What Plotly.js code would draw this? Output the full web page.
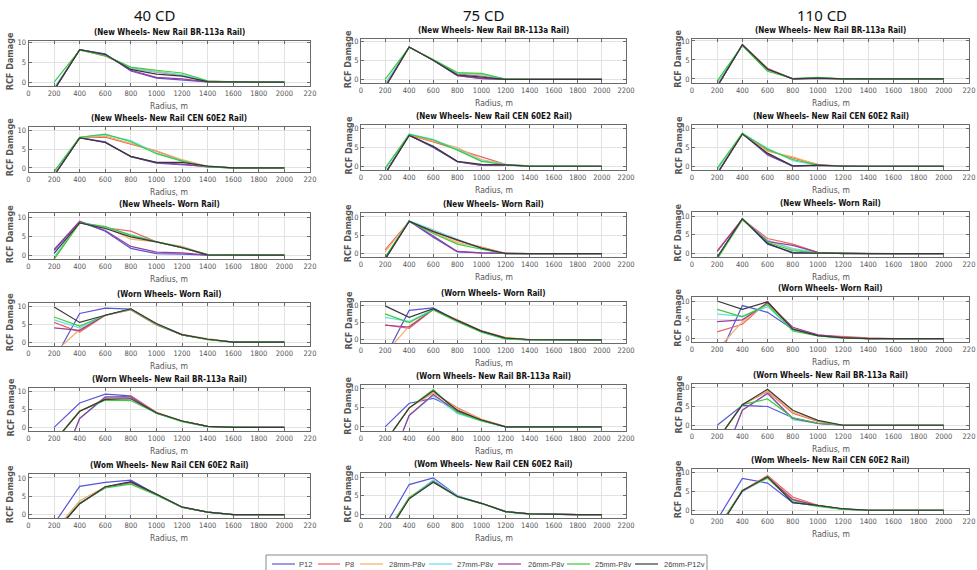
<!DOCTYPE html>
<html><head><meta charset="utf-8">
<script src="https://cdn.plot.ly/plotly-3.0.1.min.js"></script>
<style>html,body{margin:0;padding:0;background:#fff}#chart{width:977px;height:570px}</style>
</head><body><div id="chart"></div>
<script>
// ---------------- DATA ----------------
const radius = [200, 400, 600, 800, 1000, 1200, 1400, 1600, 1800, 2000];
const seriesNames = ['P12', 'P8', '28mm-P8v', '27mm-P8v', '26mm-P8v', '25mm-P8v', '26mm-P12v'];
const columnTitles = ['40 CD', '75 CD', '110 CD'];
const panelTitles = [
  '(New Wheels- New Rail BR-113a Rail)',
  '(New Wheels- New Rail CEN 60E2 Rail)',
  '(New Wheels- Worn Rail)',
  '(Worn Wheels- Worn Rail)',
  '(Worn Wheels- New Rail BR-113a Rail)',
  '(Wom Wheels- New Rail CEN 60E2 Rail)'
];
const xTickVals = [0, 200, 400, 600, 800, 1000, 1200, 1400, 1600, 1800, 2000, 2200];
const xTickTextFull = ['0', '200', '400', '600', '800', '1000', '1200', '1400', '1600', '1800', '2000', '2200'];
const xTickTextCut = ['0', '200', '400', '600', '800', '1000', '1200', '1400', '1600', '1800', '2000', '220'];
const yTickVals = [0, 5, 10];
const xTitle = 'Radius, m';
const yTitle = 'RCF Damage';

// each panel: one row per series, in seriesNames order
const cd40_newNewBR = [
  [-2, 8.2, 7.2, 2.8, 1.0, 0.6, 0.05, 0, 0, 0],
  [-2, 8.2, 6.6, 3.5, 2.5, 1.7, 0.1, 0, 0, 0],
  [-1.8, 8.2, 6.8, 3.6, 2.8, 1.8, 0.15, 0, 0, 0],
  [-1.5, 8.1, 6.9, 3.5, 2.6, 1.9, 0.2, 0, 0, 0],
  [-2, 8.2, 7.0, 3.0, 1.2, 0.8, 0.05, 0, 0, 0],
  [0, 8.1, 6.7, 3.8, 3.0, 2.3, 0.3, 0.05, 0, 0],
  [-2, 8.2, 7.0, 3.2, 2.0, 1.5, 0.1, 0, 0, 0]
];
const cd40_newNewCEN = [
  [-2, 8.1, 7.0, 3.0, 1.3, 0.9, 0.3, 0, 0, 0],
  [-2, 8.1, 8.2, 6.3, 4.5, 2.0, 0.3, 0, 0, 0],
  [-2, 8.1, 8.5, 6.5, 4.6, 2.2, 0.4, 0, 0, 0],
  [-1, 8.2, 8.8, 7.3, 4.0, 1.9, 0.3, 0, 0, 0],
  [-2, 8.1, 6.8, 3.0, 1.4, 1.0, 0.3, 0, 0, 0],
  [-1, 8.2, 9.0, 7.0, 3.8, 1.8, 0.3, 0, 0, 0],
  [-2, 8.0, 6.8, 3.1, 1.5, 1.5, 0.5, 0, 0, 0]
];
const cd40_newWorn = [
  [1.2, 8.8, 6.3, 1.8, 0.4, 0.3, 0, 0, 0, 0],
  [-1, 8.6, 7.2, 6.3, 3.5, 2.0, 0, 0, 0, 0],
  [-1, 8.5, 7.5, 4.2, 3.5, 2.3, 0.1, 0, 0, 0],
  [-0.5, 8.7, 7.3, 5.5, 3.5, 2.0, 0.1, 0, 0, 0],
  [1.5, 8.9, 6.5, 2.3, 0.8, 0.6, 0, 0, 0, 0],
  [-1, 8.5, 7.5, 5.2, 3.5, 2.0, 0.2, 0, 0, 0],
  [0.5, 8.5, 7.0, 4.8, 3.5, 2.0, 0.1, 0, 0, 0]
];
const cd40_wornWorn = [
  [-5, 8.0, 9.5, 9.2, 5.0, 2.0, 0.8, 0, 0, 0],
  [5.5, 2.8, 7.5, 9.0, 4.8, 2.0, 0.8, 0, 0, 0],
  [-3, 3.5, 7.4, 9.2, 5.0, 2.2, 1.0, 0, 0, 0],
  [6.2, 4.0, 7.5, 9.2, 5.0, 2.0, 0.8, 0, 0, 0],
  [4.0, 3.3, 7.5, 9.2, 5.0, 2.0, 0.8, 0, 0, 0],
  [7.0, 4.5, 7.5, 9.2, 5.0, 2.0, 0.7, 0, 0, 0],
  [9.8, 5.5, 7.5, 9.3, 5.2, 2.1, 0.8, 0, 0, 0]
];
const cd40_wornNewBR = [
  [0, 6.8, 9.3, 8.8, 4.0, 1.8, 0.3, 0, 0, 0],
  [-4, 4.5, 8.0, 8.8, 4.2, 1.8, 0.3, 0, 0, 0],
  [-4, 4.5, 7.8, 8.5, 4.0, 1.8, 0.3, 0, 0, 0],
  [-15, 2.5, 8.3, 8.3, 4.0, 1.7, 0.3, 0, 0, 0],
  [-15, 2.5, 8.5, 8.5, 4.0, 1.8, 0.3, 0, 0, 0],
  [-4, 4.5, 7.6, 7.5, 4.0, 1.6, 0.2, 0, 0, 0],
  [-4, 4.5, 7.8, 8.0, 4.1, 1.8, 0.3, 0, 0, 0]
];
const cd40_wornNewCEN = [
  [-2.5, 7.7, 8.8, 9.4, 5.5, 2.0, 0.7, 0, 0, 0],
  [-5, 3.0, 7.5, 8.8, 5.5, 2.0, 0.7, 0, 0, 0],
  [-4.5, 3.8, 7.6, 8.6, 5.5, 2.0, 0.7, 0, 0, 0],
  [-5, 3.0, 7.5, 8.8, 5.5, 2.0, 0.7, 0, 0, 0],
  [-5, 3.0, 7.5, 8.8, 5.5, 2.0, 0.7, 0, 0, 0],
  [-5, 3.2, 7.3, 8.3, 5.3, 2.0, 0.7, 0, 0, 0],
  [-5, 3.0, 7.6, 9.0, 5.6, 2.1, 0.7, 0, 0, 0]
];
const cd75_newNewBR = [
  [-2, 8.5, 5.0, 1.0, 0.2, 0, 0, 0, 0, 0],
  [-2, 8.5, 5.0, 1.5, 0.9, 0, 0, 0, 0, 0],
  [-1.5, 8.5, 5.1, 1.7, 1.3, 0.1, 0, 0, 0, 0],
  [-1, 8.4, 5.1, 1.6, 1.3, 0.1, 0, 0, 0, 0],
  [-2, 8.5, 5.0, 1.0, 0.3, 0, 0, 0, 0, 0],
  [0, 8.4, 5.2, 1.8, 1.6, 0.1, 0, 0, 0, 0],
  [-2, 8.5, 5.0, 1.2, 0.6, 0, 0, 0, 0, 0]
];
const cd75_newNewCEN = [
  [-2, 8.3, 5.0, 1.2, 0.2, 0.3, 0, 0, 0, 0],
  [-2, 8.3, 6.5, 4.5, 2.3, 0.5, 0, 0, 0, 0],
  [-2, 8.4, 6.7, 5.0, 1.8, 0.5, 0.1, 0, 0, 0],
  [-1, 8.6, 7.2, 4.5, 1.5, 0.5, 0.1, 0, 0, 0],
  [-2, 8.3, 5.2, 1.2, 0.3, 0.3, 0, 0, 0, 0],
  [-0.5, 8.5, 7.0, 4.3, 1.3, 0.4, 0.1, 0, 0, 0],
  [-2, 8.2, 5.3, 1.3, 0.5, 0.4, 0, 0, 0, 0]
];
const cd75_newWorn = [
  [-1.5, 8.9, 4.5, 0.5, 0.2, 0, 0, 0, 0, 0],
  [1.0, 8.8, 6.2, 3.5, 1.8, 0.1, 0, 0, 0, 0],
  [0.5, 8.8, 5.8, 3.0, 1.7, 0.1, 0, 0, 0, 0],
  [-1, 9.0, 6.5, 4.0, 1.3, 0, 0, 0, 0, 0],
  [-1.5, 8.9, 4.8, 0.6, 0.2, 0, 0, 0, 0, 0],
  [-1, 8.8, 5.5, 2.6, 1.2, 0, 0, 0, 0, 0],
  [-1.5, 8.8, 6.0, 3.8, 1.5, 0, 0, 0, 0, 0]
];
const cd75_wornWorn = [
  [-5, 8.5, 9.2, 5.5, 2.5, 0.5, 0, 0, 0, 0],
  [4.3, 3.3, 8.8, 5.8, 2.5, 0.6, 0, 0, 0, 0],
  [-4, 4.0, 8.7, 5.8, 2.6, 0.7, 0, 0, 0, 0],
  [6.5, 5.3, 8.8, 5.3, 2.3, 0.3, 0, 0, 0, 0],
  [4.2, 3.7, 8.8, 5.5, 2.5, 0.5, 0, 0, 0, 0],
  [7.5, 5.0, 8.6, 5.2, 2.2, 0.2, 0, 0, 0, 0],
  [9.8, 6.5, 9.0, 5.6, 2.5, 0.5, 0.1, 0, 0, 0]
];
const cd75_wornNewBR = [
  [0, 6.2, 7.5, 4.5, 1.8, 0, 0, 0, 0, 0],
  [-4, 5.0, 9.0, 5.0, 2.0, 0.1, 0, 0, 0, 0],
  [-4, 5.0, 9.0, 4.8, 2.0, 0.1, 0, 0, 0, 0],
  [-13, 3.0, 8.2, 3.5, 1.6, 0, 0, 0, 0, 0],
  [-13, 3.0, 8.5, 4.0, 1.8, 0, 0, 0, 0, 0],
  [-4, 5.0, 9.8, 3.8, 1.6, 0, 0, 0, 0, 0],
  [-4, 5.0, 9.5, 4.3, 1.8, 0, 0, 0, 0, 0]
];
const cd75_wornNewCEN = [
  [-3, 8.0, 9.8, 5.0, 3.0, 0.8, 0.2, 0, 0, 0],
  [-5.5, 4.5, 9.0, 4.8, 3.0, 0.8, 0.2, 0, 0, 0],
  [-5.5, 4.5, 8.8, 4.8, 3.0, 0.8, 0.2, 0, 0, 0],
  [-5.5, 4.3, 9.3, 5.0, 3.0, 0.8, 0.2, 0, 0, 0],
  [-5.5, 4.3, 8.8, 4.8, 3.0, 0.8, 0.2, 0, 0, 0],
  [-5.5, 4.5, 8.7, 4.7, 2.9, 0.7, 0.1, 0, 0, 0],
  [-6, 4.2, 8.6, 4.8, 3.0, 0.8, 0.2, 0, 0, 0]
];
const cd110_newNewBR = [
  [-2, 9.0, 2.5, 0, 0.1, 0, 0, 0, 0, 0],
  [-2, 9.0, 2.8, 0, 0.2, 0, 0, 0, 0, 0],
  [-1.5, 8.9, 2.6, 0.1, 0.3, 0, 0, 0, 0, 0],
  [-1, 8.8, 2.3, 0.1, 0.3, 0, 0, 0, 0, 0],
  [-2, 9.0, 2.5, 0, 0.1, 0, 0, 0, 0, 0],
  [-0.5, 8.8, 2.0, 0.1, 0.4, 0, 0, 0, 0, 0],
  [-2, 9.0, 2.6, 0, 0.2, 0, 0, 0, 0, 0]
];
const cd110_newNewCEN = [
  [-2, 8.7, 3.0, 0, 0.2, 0, 0, 0, 0, 0],
  [-2, 8.7, 4.2, 2.2, 0.5, 0, 0, 0, 0, 0],
  [-2, 8.6, 4.0, 2.5, 0.4, 0, 0, 0, 0, 0],
  [-1, 8.8, 4.8, 1.5, 0.3, 0, 0, 0, 0, 0],
  [-2, 8.7, 3.2, 0, 0.2, 0, 0, 0, 0, 0],
  [-0.5, 8.8, 4.5, 1.8, 0.3, 0, 0, 0, 0, 0],
  [-2, 8.6, 3.5, 0.1, 0.3, 0, 0, 0, 0, 0]
];
const cd110_newWorn = [
  [-1, 9.3, 2.5, 0.3, 0.2, 0, 0, 0, 0, 0],
  [0.8, 9.2, 4.0, 2.5, 0.3, 0, 0, 0, 0, 0],
  [-1, 9.0, 3.5, 1.2, 0.2, 0, 0, 0, 0, 0],
  [-1, 9.2, 3.5, 1.3, 0.3, 0, 0, 0, 0, 0],
  [0.5, 9.2, 3.2, 2.2, 0.3, 0, 0, 0, 0, 0],
  [-1.5, 9.0, 3.0, 0.8, 0.2, 0, 0, 0, 0, 0],
  [-1, 9.3, 2.7, 0.1, 0.1, 0, 0, 0, 0, 0]
];
const cd110_wornWorn = [
  [-6, 8.8, 7.0, 2.5, 0.8, 0.3, 0, 0, 0, 0],
  [1.8, 3.8, 9.8, 2.6, 0.9, 0.5, 0.2, 0, 0, 0],
  [-3, 4.5, 9.5, 2.5, 0.8, 0.3, 0, 0, 0, 0],
  [6.5, 6.0, 8.5, 2.3, 0.8, 0.2, 0, 0, 0, 0],
  [4.5, 5.0, 9.5, 3.0, 1.0, 0.3, 0, 0, 0, 0],
  [7.8, 5.8, 9.0, 2.0, 0.7, 0.1, 0, 0, 0, 0],
  [10, 7.8, 9.8, 2.5, 0.8, 0.2, 0, 0, 0, 0]
];
const cd110_wornNewBR = [
  [0, 5.3, 5.0, 2.0, 0.5, 0, 0, 0, 0, 0],
  [-4, 5.5, 9.0, 3.2, 1.0, 0, 0, 0, 0, 0],
  [-4, 5.5, 9.2, 3.5, 1.2, 0, 0, 0, 0, 0],
  [-13, 4.0, 8.5, 1.5, 0.5, 0, 0, 0, 0, 0],
  [-13, 4.0, 8.5, 1.8, 0.5, 0, 0, 0, 0, 0],
  [-4, 5.5, 7.0, 2.0, 0.6, 0, 0, 0, 0, 0],
  [-4, 5.5, 9.6, 4.0, 1.3, 0, 0, 0, 0, 0]
];
const cd110_wornNewCEN = [
  [-2.5, 8.4, 7.2, 2.0, 1.2, 0.3, 0, 0, 0, 0],
  [-5, 5.2, 9.2, 3.5, 1.3, 0.3, 0, 0, 0, 0],
  [-5, 5.2, 9.0, 3.0, 1.2, 0.3, 0, 0, 0, 0],
  [-5, 5.0, 8.6, 2.5, 1.2, 0.3, 0, 0, 0, 0],
  [-5, 5.0, 8.8, 2.8, 1.2, 0.3, 0, 0, 0, 0],
  [-5, 5.3, 8.5, 2.2, 1.0, 0.2, 0, 0, 0, 0],
  [-5.6, 5.2, 8.9, 2.0, 1.3, 0.4, 0, 0, 0, 0]
];

const panels = [
  [cd40_newNewBR, cd40_newNewCEN, cd40_newWorn, cd40_wornWorn, cd40_wornNewBR, cd40_wornNewCEN],
  [cd75_newNewBR, cd75_newNewCEN, cd75_newWorn, cd75_wornWorn, cd75_wornNewBR, cd75_wornNewCEN],
  [cd110_newNewBR, cd110_newNewCEN, cd110_newWorn, cd110_wornWorn, cd110_wornNewBR, cd110_wornNewCEN]
];

// ---------------- STYLE / LAYOUT ----------------
const W = 977, H = 570;
const seriesColors = ['#5656d8', '#ee6262', '#f3ae66', '#66dde8', '#9a3c9a', '#3ccc3c', '#383838'];
const colX = [[28.5, 310], [361, 626], [692, 969]];
const boxes = [
  [[40.7, 86], [126.7, 171.7], [213.3, 259], [302.7, 345.7], [388, 431], [474.3, 518.3]],
  [[39.3, 83.3], [125, 170], [213.3, 257.3], [301.7, 343.3], [385, 430.7], [473.3, 518.3]],
  [[39, 82.7], [125, 170], [212.3, 257.3], [297.3, 342.3], [384, 429], [468.7, 514]]
];
const yRanges = [[-1, 10.5], [-1, 11], [-1, 11], [-1, 11], [-1, 11], [-1, 11]];
const colHeadX = [155, 484, 822];
const yTitleX = [10, 348, 678];
// legend geometry (pixels)
const legendBox = [266, 707, 555, 580];
const legendLineX = [[272, 295], [318, 340], [360, 383], [429, 452], [498, 521], [567, 590], [635, 658]];
const legendTextX = [297, 343, 387, 455, 526, 593, 662];
const legendY = 564;

const narrow = '"Liberation Sans Narrow", "DejaVu Sans Condensed", "Liberation Sans", Arial, sans-serif';
const regular = '"Liberation Sans", Arial, sans-serif';
const px = v => v / W, py = v => 1 - v / H;

const traces = [];
const layout = {
  width: W, height: H, margin: {l: 0, r: 0, t: 0, b: 0},
  paper_bgcolor: '#fff', plot_bgcolor: '#fff',
  showlegend: false,
  annotations: [], shapes: []
};

for (let c = 0; c < 3; c++) {
  layout.annotations.push({
    text: columnTitles[c], xref: 'paper', yref: 'paper', x: px(colHeadX[c]), y: py(15),
    xanchor: 'center', yanchor: 'middle', showarrow: false,
    font: {family: '"Noto Sans", "Open Sans", sans-serif', size: 15, color: '#111'}
  });
  for (let r = 0; r < 6; r++) {
    const n = c * 6 + r + 1;
    const xk = n === 1 ? 'xaxis' : 'xaxis' + n;
    const yk = n === 1 ? 'yaxis' : 'yaxis' + n;
    const xr = n === 1 ? 'x' : 'x' + n;
    const yr = n === 1 ? 'y' : 'y' + n;
    const [top, bot] = boxes[c][r];
    const common = {
      ticks: 'inside', ticklen: 3, tickcolor: '#6a6a6a', tickwidth: 1,
      showline: true, linecolor: '#6a6a6a', linewidth: 1, mirror: 'ticks',
      showgrid: true, gridcolor: '#e2e2e2', gridwidth: 1, zeroline: false,
      tickfont: {family: narrow, size: 7.5, color: '#555'}, fixedrange: true
    };
    layout[xk] = Object.assign({}, common, {
      domain: [px(colX[c][0]), px(colX[c][1])], range: [0, 2200], anchor: yr,
      tickmode: 'array', tickvals: xTickVals, ticktext: c === 1 ? xTickTextFull : xTickTextCut
    });
    layout[yk] = Object.assign({}, common, {
      domain: [py(bot), py(top)], range: yRanges[r], anchor: xr,
      tickmode: 'array', tickvals: yTickVals
    });
    const data = panels[c][r];
    for (let s = 0; s < seriesNames.length; s++) {
      traces.push({
        x: radius, y: data[s], xaxis: xr, yaxis: yr, type: 'scatter', mode: 'lines',
        name: seriesNames[s], showlegend: false,
        line: {color: seriesColors[s], width: 1.2}, hoverinfo: 'skip'
      });
    }
    const cx = (colX[c][0] + colX[c][1]) / 2;
    layout.annotations.push({
      text: panelTitles[r], xref: 'paper', yref: 'paper', x: px(cx), y: py(top - 8.4),
      xanchor: 'center', yanchor: 'middle', showarrow: false,
      font: {family: narrow, size: 8, color: '#111', weight: 700}
    });
    layout.annotations.push({
      text: xTitle, xref: 'paper', yref: 'paper', x: px(cx), y: py(bot + 20),
      xanchor: 'center', yanchor: 'middle', showarrow: false,
      font: {family: narrow, size: 8.5, color: '#555'}
    });
    layout.annotations.push({
      text: yTitle, xref: 'paper', yref: 'paper', x: px(yTitleX[c]), y: py((top + bot) / 2 - 2),
      xanchor: 'center', yanchor: 'middle', showarrow: false, textangle: -90,
      font: {family: narrow, size: 9, color: '#555', weight: 700}
    });
  }
}

// legend (drawn as shapes + text)
layout.shapes.push({
  type: 'rect', xref: 'paper', yref: 'paper',
  x0: px(legendBox[0]), x1: px(legendBox[1]), y0: py(legendBox[3]), y1: py(legendBox[2]),
  line: {color: '#8a8a8a', width: 1}, fillcolor: '#fff', layer: 'below'
});
for (let s = 0; s < seriesNames.length; s++) {
  layout.shapes.push({
    type: 'line', xref: 'paper', yref: 'paper',
    x0: px(legendLineX[s][0]), x1: px(legendLineX[s][1]), y0: py(legendY), y1: py(legendY),
    line: {color: seriesColors[s], width: 1.2}
  });
  layout.annotations.push({
    text: seriesNames[s], xref: 'paper', yref: 'paper', x: px(legendTextX[s]), y: py(legendY),
    xanchor: 'left', yanchor: 'middle', showarrow: false,
    font: {family: regular, size: 7.5, color: '#444'}
  });
}

Plotly.newPlot('chart', traces, layout, {staticPlot: true, displayModeBar: false});
</script>
</body></html>
